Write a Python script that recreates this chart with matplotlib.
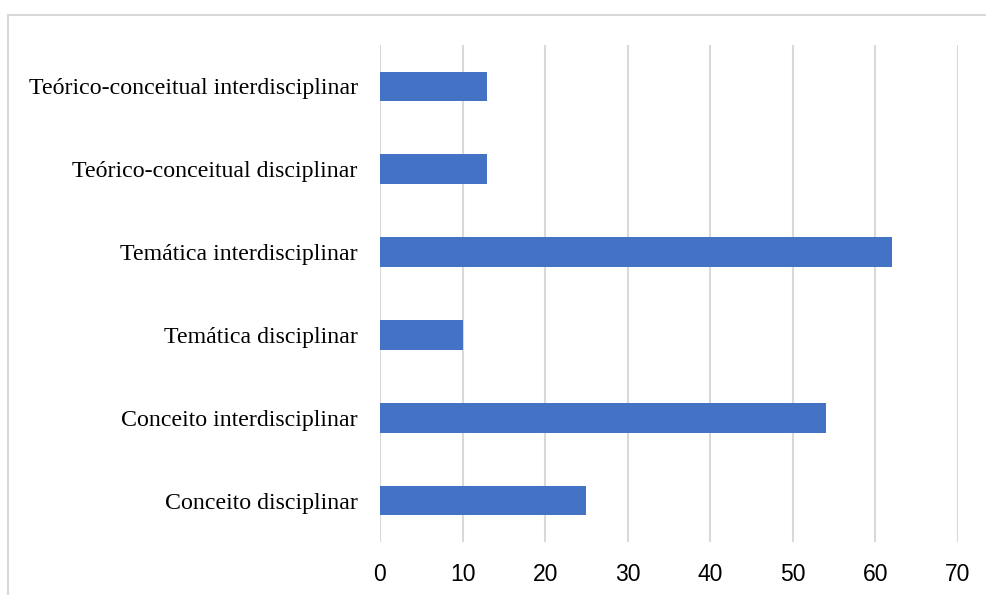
import matplotlib
matplotlib.use("Agg")
import matplotlib.pyplot as plt
from matplotlib.lines import Line2D

categories = ["Conceito disciplinar", "Conceito interdisciplinar", "Temática disciplinar",
              "Temática interdisciplinar", "Teórico-conceitual disciplinar",
              "Teórico-conceitual interdisciplinar"]
values = [25, 54, 10, 62, 13, 13]
xticks = [0, 10, 20, 30, 40, 50, 60, 70]

fig = plt.figure(figsize=(9.86, 5.95), dpi=100)
ax = fig.add_axes([380/986, 1-542/595, 578/986, 497/595])

ax.barh(range(len(categories)), values, height=0.36, color="#4472c4", zorder=3)
ax.set_xlim(0, 70)
ax.set_ylim(-0.5, len(categories)-0.5)
ax.set_xticks(xticks)
ax.set_xticklabels([str(t) for t in xticks], family=["Liberation Sans Narrow", "Liberation Sans", "DejaVu Sans"], fontsize=16.5)
ax.set_yticks(range(len(categories)))
ax.set_yticklabels(categories, family=["Liberation Serif", "DejaVu Serif"], fontsize=17.2)
ax.grid(axis="x", color="#d9d9d9", linewidth=1.5, zorder=0)
for s in ax.spines.values():
    s.set_visible(False)
ax.tick_params(length=0)
ax.tick_params(axis="x", pad=15)
ax.tick_params(axis="y", pad=16)

# outer chart frame
fig.add_artist(Line2D([8/986, 1.0], [1-15/595, 1-15/595], color="#d9d9d9", linewidth=1.5, transform=fig.transFigure))
fig.add_artist(Line2D([8/986, 8/986], [0, 1-15/595], color="#d9d9d9", linewidth=1.5, transform=fig.transFigure))

fig.savefig("out.png", dpi=100)
